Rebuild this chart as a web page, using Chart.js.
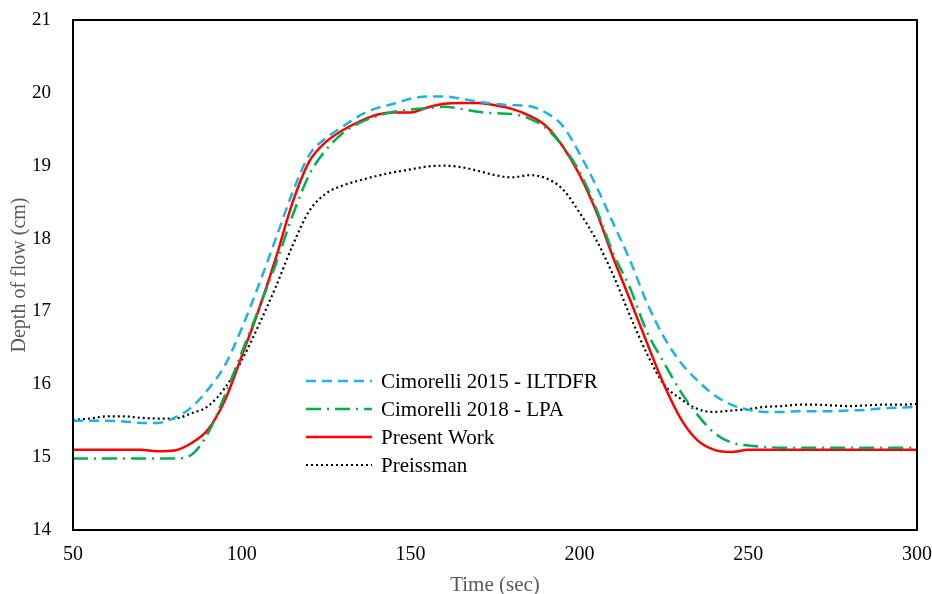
<!DOCTYPE html>
<html>
<head>
<meta charset="utf-8">
<script src="https://cdn.jsdelivr.net/npm/chart.js@4.4.1/dist/chart.umd.min.js"></script>
<style>
    html, body { margin: 0; padding: 0; background: #fff; }
    #wrap { width: 932px; height: 594px; }
</style>
</head>
<body>
<div id="wrap"><canvas id="flowChart"></canvas></div>
<script>
// time axis (sec), sampled every 5 s
const times = [50, 55, 60, 65, 70, 75, 80, 85, 90, 95,
    100, 105, 110, 115, 120, 125, 130, 135, 140, 145,
    150, 155, 160, 165, 170, 175, 180, 185, 190, 195,
    200, 205, 210, 215, 220, 225, 230, 235, 240, 245,
    250, 255, 260, 265, 270, 275, 280, 285, 290, 295, 300];

const cimorelli2015 = [15.50, 15.50, 15.50, 15.49, 15.47, 15.47, 15.54, 15.68, 15.93, 16.26,
    16.77, 17.36, 17.99, 18.63, 19.15, 19.38, 19.54, 19.69, 19.79, 19.85,
    19.92, 19.95, 19.95, 19.92, 19.88, 19.85, 19.83, 19.82, 19.73, 19.55,
    19.17, 18.72, 18.21, 17.70, 17.12, 16.65, 16.30, 16.05, 15.85, 15.72,
    15.65, 15.62, 15.62, 15.63, 15.63, 15.63, 15.64, 15.65, 15.67, 15.68, 15.69];

const cimorelli2018 = [14.98, 14.98, 14.98, 14.98, 14.98, 14.98, 14.98, 15.03, 15.33, 15.85,
    16.44, 17.03, 17.64, 18.31, 18.88, 19.22, 19.45, 19.59, 19.68, 19.74,
    19.77, 19.79, 19.81, 19.78, 19.74, 19.72, 19.71, 19.65, 19.52, 19.27,
    18.92, 18.41, 17.80, 17.32, 16.72, 16.30, 15.90, 15.58, 15.33, 15.20,
    15.16, 15.14, 15.13, 15.13, 15.13, 15.13, 15.13, 15.13, 15.13, 15.13, 15.13];

const presentWork = [15.10, 15.10, 15.10, 15.10, 15.10, 15.08, 15.09, 15.19, 15.38, 15.78,
    16.39, 17.02, 17.72, 18.49, 19.06, 19.33, 19.49, 19.61, 19.70, 19.73,
    19.73, 19.80, 19.85, 19.86, 19.86, 19.83, 19.78, 19.69, 19.55, 19.27,
    18.88, 18.37, 17.74, 17.16, 16.57, 16.00, 15.53, 15.23, 15.10, 15.07,
    15.10, 15.10, 15.10, 15.10, 15.10, 15.10, 15.10, 15.10, 15.10, 15.10, 15.10];

const preissman = [15.51, 15.53, 15.56, 15.56, 15.54, 15.53, 15.53, 15.60, 15.70, 15.95,
    16.33, 16.81, 17.33, 17.90, 18.38, 18.62, 18.73, 18.80, 18.86, 18.91,
    18.95, 18.99, 19.00, 18.98, 18.93, 18.87, 18.84, 18.87, 18.83, 18.68,
    18.36, 17.98, 17.50, 16.94, 16.42, 16.00, 15.80, 15.66, 15.62, 15.64,
    15.66, 15.69, 15.70, 15.72, 15.72, 15.71, 15.70, 15.71, 15.72, 15.72, 15.73];

const seriesNames = ['Cimorelli 2015 - ILTDFR', 'Cimorelli 2018 - LPA', 'Present Work', 'Preissman'];

const xTicks = [50, 100, 150, 200, 250, 300];
const yTicks = [14, 15, 16, 17, 18, 19, 20, 21];

const serif = '"Liberation Serif", "Times New Roman", serif';

function toPoints(values) {
    return times.map((t, i) => ({ x: t, y: values[i] }));
}

// frame around the plot area + legend drawn inside it
const framePlugin = {
    id: 'frame',
    afterDraw(chart) {
        const ctx = chart.ctx;
        const a = chart.chartArea;
        ctx.save();
        ctx.strokeStyle = '#000';
        ctx.lineWidth = 2;
        ctx.setLineDash([]);
        ctx.strokeRect(a.left, a.top, a.right - a.left, a.bottom - a.top);

        // legend
        const lx = 306, ly = 381, rowH = 28, sample = 66;
        ctx.font = '21px ' + serif;
        ctx.textBaseline = 'middle';
        ctx.fillStyle = '#000';
        chart.data.datasets.forEach((ds, i) => {
            const y = ly + i * rowH;
            ctx.beginPath();
            ctx.strokeStyle = ds.borderColor;
            ctx.lineWidth = ds.borderWidth;
            ctx.lineCap = ds.borderCapStyle || 'butt';
            ctx.setLineDash(ds.borderDash || []);
            ctx.moveTo(lx, y);
            ctx.lineTo(lx + sample, y);
            ctx.stroke();
            ctx.setLineDash([]);
            ctx.fillText(ds.label, lx + sample + 9, y + 1);
        });
        ctx.restore();
    }
};

window.onload = function () {
    const ctx = document.getElementById('flowChart').getContext('2d');

    new Chart(ctx, {
        type: 'line',
        data: {
            datasets: [{
                label: seriesNames[0],
                data: toPoints(cimorelli2015),
                borderColor: '#1fb4e0',
                borderWidth: 2.5,
                borderDash: [10, 6]
            }, {
                label: seriesNames[1],
                data: toPoints(cimorelli2018),
                borderColor: '#00b050',
                borderWidth: 2.5,
                borderDash: [15, 6, 2, 6]
            }, {
                label: seriesNames[2],
                data: toPoints(presentWork),
                borderColor: '#ff0000',
                borderWidth: 2.5
            }, {
                label: seriesNames[3],
                data: toPoints(preissman),
                borderColor: '#000000',
                borderWidth: 2.2,
                borderDash: [2, 3]
            }]
        },
        options: {
            responsive: true,
            maintainAspectRatio: false,
            animation: false,
            elements: {
                point: { radius: 0 },
                line: { cubicInterpolationMode: 'monotone', fill: false }
            },
            layout: { padding: { left: 0, right: 15, top: 20, bottom: 0 } },
            plugins: {
                legend: { display: false },
                tooltip: { enabled: false }
            },
            scales: {
                x: {
                    type: 'linear',
                    min: 50,
                    max: 300,
                    afterFit(scale) {
                        scale.height = 64;
                        scale.paddingLeft = 0;
                        scale.paddingRight = 0;
                    },
                    afterBuildTicks(scale) { scale.ticks = xTicks.map(v => ({ value: v })); },
                    grid: { display: false, drawTicks: false },
                    border: { display: false },
                    ticks: {
                        padding: 13,
                        color: '#000',
                        font: { family: serif, size: 20 }
                    },
                    title: {
                        display: true,
                        text: 'Time (sec)',
                        color: '#595959',
                        padding: { top: 0, bottom: -2 },
                        font: { family: serif, size: 21, lineHeight: 1 }
                    }
                },
                y: {
                    min: 14,
                    max: 21,
                    afterFit(scale) {
                        scale.width = 73;
                        scale.paddingTop = 0;
                        scale.paddingBottom = 0;
                    },
                    afterBuildTicks(scale) { scale.ticks = yTicks.map(v => ({ value: v })); },
                    grid: { display: false, drawTicks: false },
                    border: { display: false },
                    ticks: {
                        padding: 22,
                        color: '#000',
                        font: { family: serif, size: 19 }
                    },
                    title: {
                        display: true,
                        text: 'Depth of flow (cm)',
                        color: '#595959',
                        padding: { top: 10, bottom: 0 },
                        font: { family: serif, size: 20, lineHeight: 1 }
                    }
                }
            }
        },
        plugins: [framePlugin]
    });
};
</script>
</body>
</html>
